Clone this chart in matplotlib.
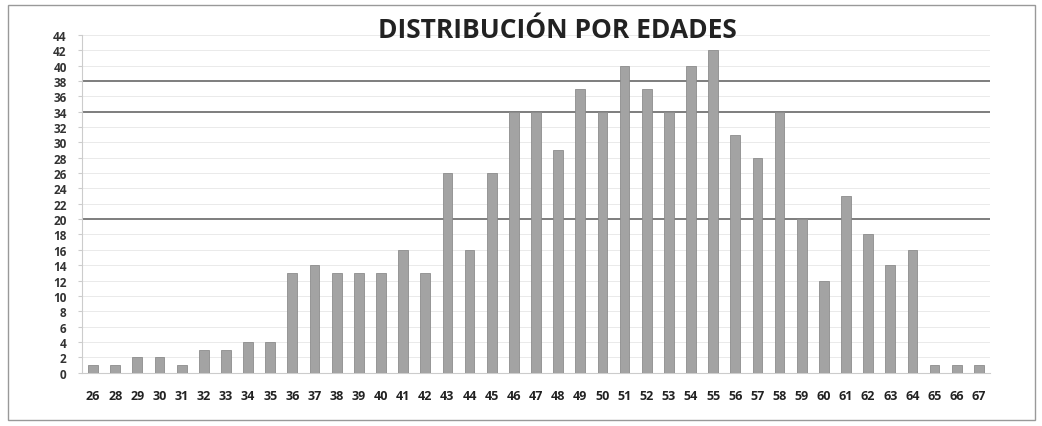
import matplotlib
matplotlib.use("Agg")
import matplotlib.pyplot as plt
from matplotlib.patches import Rectangle

# Datos (edad -> numero de personas)
edades = [26, 28, 29, 30, 31, 32, 33, 34, 35, 36, 37, 38, 39, 40, 41, 42, 43, 44, 45, 46,
          47, 48, 49, 50, 51, 52, 53, 54, 55, 56, 57, 58, 59, 60, 61, 62, 63, 64, 65, 66, 67]
personas = [1, 1, 2, 2, 1, 3, 3, 4, 4, 13, 14, 13, 13, 13, 16, 13, 26, 16, 26, 34,
            34, 29, 37, 34, 40, 37, 34, 40, 42, 31, 28, 34, 20, 12, 23, 18, 14, 16, 1, 1, 1]
y_ticks = list(range(0, 45, 2))
lineas_oscuras = [20, 34, 38]

plt.rcParams["font.family"] = ["Open Sans", "DejaVu Sans"]

fig = plt.figure(figsize=(10.42, 4.27), dpi=100)
ax = fig.add_axes([0.0787, 0.125, 0.8713, 0.791])

x = list(range(len(edades)))
ax.bar(x, personas, width=0.44, color="#a3a3a3", edgecolor="#8c8c8c", linewidth=0.6, zorder=3)

for t in y_ticks:
    if t in lineas_oscuras:
        ax.axhline(t, color="#5a5a5a", lw=1.1, zorder=1)
    elif t > 0:
        ax.axhline(t, color="#e6e6e6", lw=0.6, zorder=1)

ax.set_xlim(-0.5, len(edades) - 0.5)
ax.set_ylim(0, 44)
ax.set_yticks(y_ticks)
ax.set_yticklabels([str(t) for t in y_ticks], fontsize=8.5, fontweight="bold", color="#333333")
ax.set_xticks(x)
ax.set_xticklabels([str(e) for e in edades], fontsize=9, fontweight="bold", color="#222222")
ax.tick_params(axis="x", length=0, pad=12)
ax.tick_params(axis="y", length=3, color="#cccccc", pad=8)

for s in ["top", "right"]:
    ax.spines[s].set_visible(False)
ax.spines["left"].set_color("#cccccc")
ax.spines["bottom"].set_color("#cccccc")

fig.text(0.535, 0.928, "DISTRIBUCIÓN POR EDADES", ha="center", va="center",
         fontsize=19, fontweight="bold", color="#222222")

# marco del grafico
fig.patches.append(Rectangle((0.008, 0.015), 0.985, 0.97, transform=fig.transFigure,
                             fill=False, edgecolor="#999999", lw=1.0))

fig.savefig("out.png", dpi=100)
